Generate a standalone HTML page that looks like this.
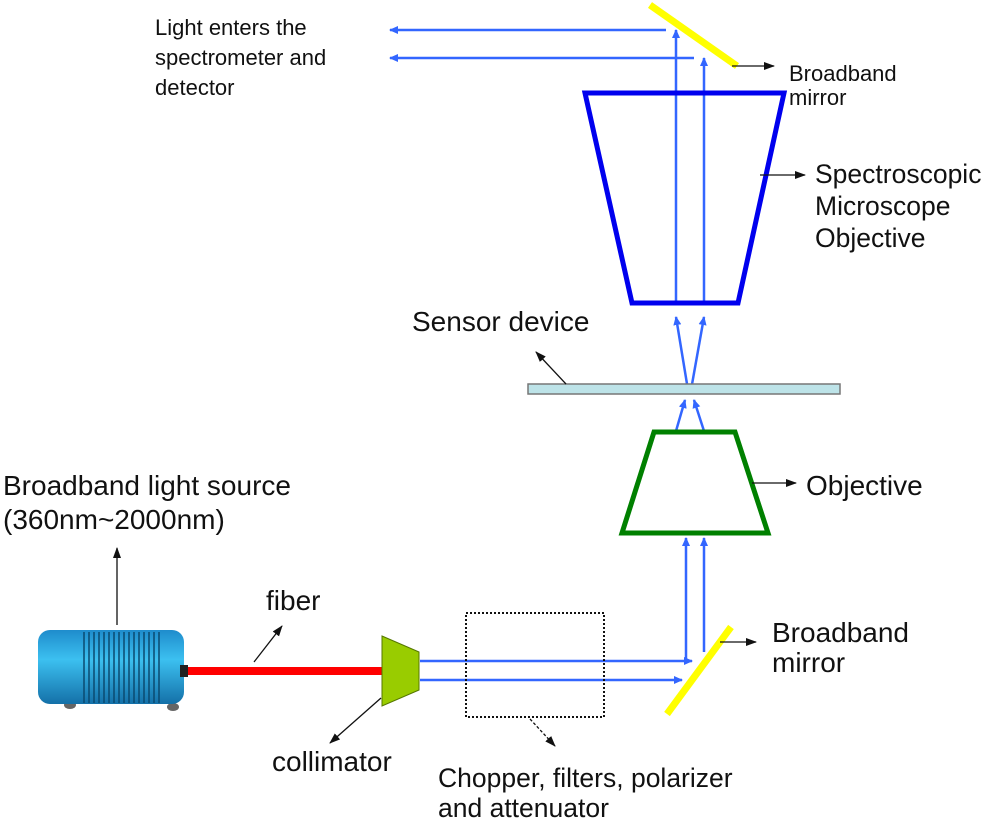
<!DOCTYPE html>
<html><head><style>body{margin:0;background:#fff}svg{display:block}text{font-family:"Liberation Sans",sans-serif;font-size:28px;fill:#111}text.c{font-size:26.5px}text.t{font-size:26.5px}text.s{font-size:22px}</style></head>
<body>
<svg width="1000" height="824" viewBox="0 0 1000 824">
<defs>
<marker id="b" markerWidth="10" markerHeight="10" refX="8" refY="5" orient="auto" markerUnits="userSpaceOnUse"><path d="M0,1 L9,5 L0,9 Z" fill="#3366ff"/></marker>
<marker id="k" markerWidth="12" markerHeight="12" refX="10" refY="6" orient="auto" markerUnits="userSpaceOnUse"><path d="M0,2 L11,6 L0,10 Z" fill="#111"/></marker>
<linearGradient id="cyl" x1="0" y1="0" x2="0" y2="1"><stop offset="0" stop-color="#1e8ccc"/><stop offset="0.4" stop-color="#3cc0f0"/><stop offset="1" stop-color="#1470a8"/></linearGradient>
</defs>
<ellipse cx="70" cy="705" rx="6" ry="4" fill="#666"/><ellipse cx="173" cy="707" rx="6" ry="4" fill="#666"/>
<rect x="38" y="630" width="146" height="74" rx="12" fill="url(#cyl)"/>
<g stroke="#0a4a70" stroke-width="1.5">
<line x1="84" y1="632" x2="84" y2="703"/><line x1="89" y1="632" x2="89" y2="703"/><line x1="94" y1="632" x2="94" y2="703"/><line x1="99" y1="632" x2="99" y2="703"/><line x1="104" y1="632" x2="104" y2="703"/><line x1="109" y1="632" x2="109" y2="703"/><line x1="114" y1="632" x2="114" y2="703"/><line x1="119" y1="632" x2="119" y2="703"/><line x1="124" y1="632" x2="124" y2="703"/><line x1="129" y1="632" x2="129" y2="703"/><line x1="134" y1="632" x2="134" y2="703"/><line x1="139" y1="632" x2="139" y2="703"/><line x1="144" y1="632" x2="144" y2="703"/><line x1="149" y1="632" x2="149" y2="703"/><line x1="154" y1="632" x2="154" y2="703"/><line x1="159" y1="632" x2="159" y2="703"/>
</g>
<rect x="180" y="665" width="8" height="12" fill="#222"/>
<line x1="117" y1="625" x2="117" y2="548" stroke="#111" stroke-width="1.3" marker-end="url(#k)"/>
<line x1="188" y1="671" x2="384" y2="671" stroke="#ff0000" stroke-width="8"/>
<line x1="254" y1="662" x2="282" y2="626" stroke="#111" stroke-width="1.3" marker-end="url(#k)"/>
<polygon points="382,636 419,652 419,690 382,706" fill="#99cc00" stroke="#557700" stroke-width="1"/>
<line x1="381" y1="698" x2="330" y2="743" stroke="#111" stroke-width="1.3" marker-end="url(#k)"/>
<g stroke="#3366ff" stroke-width="2.5" fill="none">
<line x1="420" y1="661" x2="692" y2="661" marker-end="url(#b)"/>
<line x1="420" y1="680" x2="682" y2="680" marker-end="url(#b)"/>
<line x1="686" y1="660" x2="686" y2="538" marker-end="url(#b)"/>
<line x1="704" y1="652" x2="704" y2="538" marker-end="url(#b)"/>
<line x1="676" y1="431" x2="685" y2="400" marker-end="url(#b)"/>
<line x1="704" y1="431" x2="694" y2="400" marker-end="url(#b)"/>
<line x1="688" y1="390" x2="676" y2="317" marker-end="url(#b)"/>
<line x1="691" y1="390" x2="704" y2="317" marker-end="url(#b)"/>
<line x1="676" y1="303" x2="676" y2="30" marker-end="url(#b)"/>
<line x1="704" y1="303" x2="704" y2="58" marker-end="url(#b)"/>
<line x1="666" y1="30" x2="390" y2="30" marker-end="url(#b)"/>
<line x1="694" y1="58" x2="390" y2="58" marker-end="url(#b)"/>
</g>
<rect x="466" y="613" width="138" height="104" fill="none" stroke="#111" stroke-width="2" stroke-dasharray="2,2"/>
<line x1="530" y1="719" x2="555" y2="746" stroke="#111" stroke-width="1.3" stroke-dasharray="3,2" marker-end="url(#k)"/>
<line x1="667" y1="714" x2="731" y2="627" stroke="#ffff00" stroke-width="7"/>
<line x1="720" y1="642" x2="756" y2="642" stroke="#111" stroke-width="1.3" marker-end="url(#k)"/>
<polygon points="654,432 735,432 768,533 622,533" fill="none" stroke="#008000" stroke-width="5"/>
<line x1="752" y1="483" x2="796" y2="483" stroke="#111" stroke-width="1.3" marker-end="url(#k)"/>
<rect x="528" y="384" width="312" height="10" fill="#bde3e8" stroke="#777" stroke-width="1.5"/>
<line x1="566" y1="384" x2="536" y2="352" stroke="#111" stroke-width="1.3" marker-end="url(#k)"/>
<polygon points="585,93 784,93 738,303 632,303" fill="none" stroke="#0000ee" stroke-width="5"/>
<line x1="760" y1="175" x2="805" y2="175" stroke="#111" stroke-width="1.3" marker-end="url(#k)"/>
<line x1="650" y1="5" x2="737" y2="66" stroke="#ffff00" stroke-width="7"/>
<line x1="732" y1="66" x2="774" y2="66" stroke="#111" stroke-width="1.3" marker-end="url(#k)"/>
<text class="s" x="155" y="35">Light enters the</text>
<text class="s" x="155" y="65">spectrometer and</text>
<text class="s" x="155" y="95">detector</text>
<text class="s" x="789" y="81">Broadband</text>
<text class="s" x="789" y="105">mirror</text>
<text class="t" x="815" y="183">Spectroscopic</text>
<text class="t" x="815" y="215">Microscope</text>
<text class="t" x="815" y="247">Objective</text>
<text x="412" y="331">Sensor device</text>
<text x="806" y="495">Objective</text>
<text x="3" y="495">Broadband light source</text>
<text x="3" y="529">(360nm~2000nm)</text>
<text x="266" y="610">fiber</text>
<text x="772" y="642">Broadband</text>
<text x="772" y="672">mirror</text>
<text x="272" y="771">collimator</text>
<text class="c" x="438" y="787">Chopper, filters, polarizer</text>
<text class="c" x="438" y="817">and attenuator</text>
</svg>
</body></html>
